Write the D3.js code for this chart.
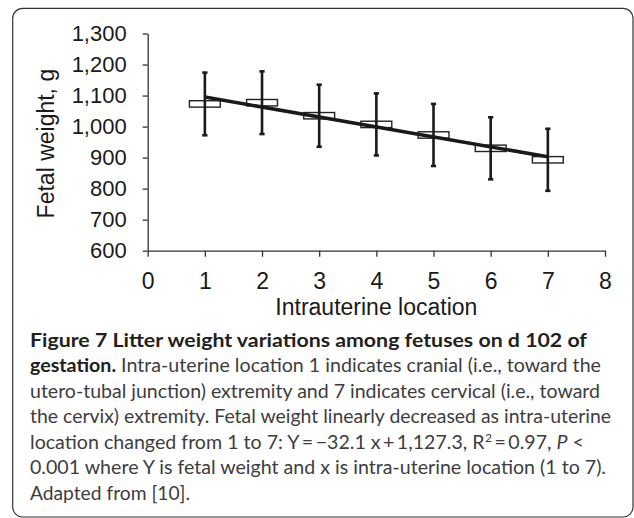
<!DOCTYPE html>
<html>
<head>
<meta charset="utf-8">
<script src="https://cdn.jsdelivr.net/npm/d3@7"></script>
<style>
  html, body { margin: 0; padding: 0; background: #fff; }
  svg { display: block; }
</style>
</head>
<body>
<div id="chart"></div>
<script>
// intrauterine location vs fetal weight (g), mean +/- SD
const locations = [1, 2, 3, 4, 5, 6, 7];
const meanWeight = [1073, 1077, 1035, 1007, 973, 930, 893];
const sdWeight = [101, 101, 100, 100, 100, 100, 100];
// linear fit given in caption: Y = -32.1 x + 1127.3
const trendSlope = -32.1;
const trendIntercept = 1127.3;
const xTicks = [0, 1, 2, 3, 4, 5, 6, 7, 8];
const yTicks = [600, 700, 800, 900, 1000, 1100, 1200, 1300];

const width = 634;
const height = 518;
const plot = { left: 147.7, right: 605, top: 33.5, bottom: 250.7 };

const svg = d3.select('#chart')
  .append('svg')
  .attr('width', width)
  .attr('height', height);

// frame around figure + caption
svg.append('rect')
  .attr('x', 12.7)
  .attr('y', 8.3)
  .attr('width', 633 - 12.7)
  .attr('height', 517 - 8.3)
  .attr('rx', 10)
  .attr('fill', 'none')
  .attr('stroke', '#333')
  .attr('stroke-width', 1.2);

const x = d3.scaleLinear().domain([0, 8]).range([plot.left, plot.right]);
const y = d3.scaleLinear().domain([600, 1300]).range([plot.bottom, plot.top]);

const chartFont = '"Liberation Sans", Arial, sans-serif';

// y axis
const yAxis = svg.append('g')
  .attr('transform', 'translate(' + plot.left + ',0)')
  .call(d3.axisLeft(y).tickValues(yTicks).tickSize(5).tickSizeOuter(0)
    .tickPadding(16).tickFormat(d3.format(',')));

// x axis
const xAxis = svg.append('g')
  .attr('transform', 'translate(0,' + plot.bottom + ')')
  .call(d3.axisBottom(x).tickValues(xTicks).tickSize(6).tickSizeOuter(0)
    .tickPadding(15.5));

[yAxis, xAxis].forEach((g) => {
  g.select('.domain').attr('stroke', '#333').attr('stroke-width', 1.3);
  g.selectAll('.tick line').attr('stroke', '#333').attr('stroke-width', 1.3);
  g.selectAll('.tick text')
    .attr('fill', '#1a1a1a')
    .style('font-family', chartFont);
});
yAxis.selectAll('.tick text').style('font-size', '22px');
xAxis.selectAll('.tick text').style('font-size', '23px');

// axis titles
svg.append('text')
  .attr('transform', 'translate(54,' + ((plot.top + plot.bottom) / 2 + 1.5) + ') rotate(-90)')
  .attr('text-anchor', 'middle')
  .attr('fill', '#1a1a1a')
  .style('font-family', chartFont)
  .style('font-size', '23px')
  .text('Fetal weight, g');

svg.append('text')
  .attr('x', (plot.left + plot.right) / 2)
  .attr('y', 315)
  .attr('text-anchor', 'middle')
  .attr('fill', '#1a1a1a')
  .style('font-family', chartFont)
  .style('font-size', '23px')
  .text('Intrauterine location');

const points = locations.map((loc, i) => ({ loc, mean: meanWeight[i], sd: sdWeight[i] }));

// mean markers (open boxes)
svg.append('g')
  .selectAll('rect')
  .data(points)
  .enter()
  .append('rect')
  .attr('x', (d) => x(d.loc - 0.27))
  .attr('y', (d) => y(d.mean) - 3.2)
  .attr('width', (d) => x(d.loc + 0.27) - x(d.loc - 0.27))
  .attr('height', 6.4)
  .attr('fill', '#fff')
  .attr('stroke', '#222')
  .attr('stroke-width', 1.4);

// trend line
const trendLine = d3.line()
  .x((d) => x(d))
  .y((d) => y(trendSlope * d + trendIntercept));

svg.append('path')
  .datum([d3.min(locations), d3.max(locations)])
  .attr('d', trendLine)
  .attr('fill', 'none')
  .attr('stroke', '#1a1a1a')
  .attr('stroke-width', 3.6);

// error bars
const err = svg.append('g')
  .attr('stroke', '#1a1a1a')
  .attr('stroke-width', 2.6);

err.selectAll('line.bar')
  .data(points)
  .enter()
  .append('line')
  .classed('bar', true)
  .attr('x1', (d) => x(d.loc))
  .attr('x2', (d) => x(d.loc))
  .attr('y1', (d) => y(d.mean + d.sd))
  .attr('y2', (d) => y(d.mean - d.sd));

['top', 'bottom'].forEach((end) => {
  err.selectAll('line.cap-' + end)
    .data(points)
    .enter()
    .append('line')
    .classed('cap-' + end, true)
    .attr('x1', (d) => x(d.loc) - 2.6)
    .attr('x2', (d) => x(d.loc) + 2.6)
    .attr('y1', (d) => y(end === 'top' ? d.mean + d.sd : d.mean - d.sd))
    .attr('y2', (d) => y(end === 'top' ? d.mean + d.sd : d.mean - d.sd));
});

// caption
const capFont = 'Lato, "Open Sans", sans-serif';
const capX = 30;
const capTop = 346.7;
const capStep = 25.55;
const th = '\u2009';
const capLines = [
  { parts: [{ t: 'Figure 7 Litter weight variations among fetuses on d 102 of', b: true }], w: 557 },
  { parts: [{ t: 'gestation.', b: true }, { t: ' Intra-uterine location 1 indicates cranial (i.e., toward the' }], w: 571 },
  { parts: [{ t: 'utero-tubal junction) extremity and 7 indicates cervical (i.e., toward' }], w: 570 },
  { parts: [{ t: 'the cervix) extremity. Fetal weight linearly decreased as intra-uterine' }], w: 581 },
  { parts: [{ t: 'location changed from 1 to 7: Y' + th + '=' + th + '\u221232.1 x' + th + '+' + th + '1,127.3, R' },
    { t: '2', sup: true }, { t: th + '=' + th + '0.97, ' }, { t: 'P', i: true }, { t: ' <' }], w: 554 },
  { parts: [{ t: '0.001 where Y is fetal weight and x is intra-uterine location (1 to 7).' }], w: 576 },
  { parts: [{ t: 'Adapted from [10].' }], w: 160 }
];

capLines.forEach((line, i) => {
  const txt = svg.append('text')
    .attr('x', capX)
    .attr('y', capTop + i * capStep)
    .attr('fill', '#3d3d3d')
    .style('font-family', capFont)
    .style('font-size', '19.5px')
    .attr('textLength', line.w)
    .attr('lengthAdjust', 'spacingAndGlyphs');
  line.parts.forEach((p) => {
    const ts = txt.append('tspan').text(p.t);
    if (p.b) ts.style('font-weight', 'bold').attr('fill', '#231f20');
    if (p.i) ts.style('font-style', 'italic');
    if (p.sup) ts.attr('baseline-shift', '7px').attr('dx', 0.5).style('font-size', '12px');
  });
});
</script>
</body>
</html>
